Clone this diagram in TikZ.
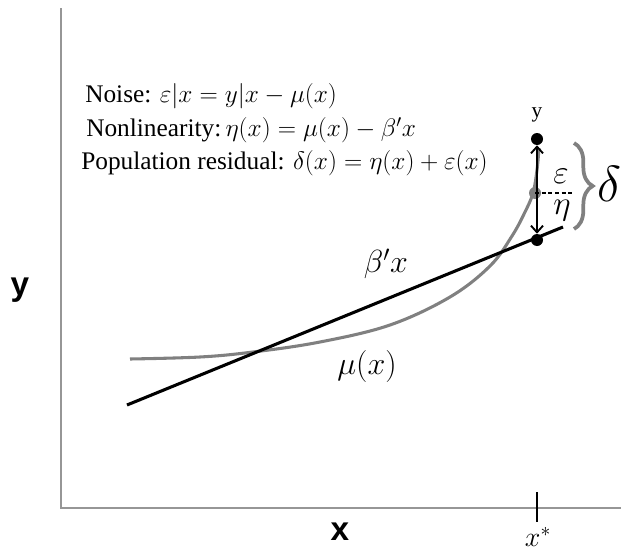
\RequirePackage{fix-cm}
\documentclass[tikz,border=0pt]{standalone}
\usepackage{amsmath,amssymb}
\usepackage[no-math]{fontspec}
\setmainfont{Liberation Serif}
\newfontfamily\axisfont{Liberation Sans}
\usepackage{tikz}
\usetikzlibrary{arrows.meta,positioning,decorations.pathreplacing,calc}
\definecolor{curvegray}{RGB}{128,128,128}
\definecolor{axisgray}{RGB}{150,150,150}

\begin{document}
\begin{tikzpicture}[x=0.75pt,y=-0.75pt,
  axis/.style={draw=axisgray,line width=1.5pt},
  dot/.style={circle,fill=black,inner sep=0pt,minimum size=9pt},
  gdot/.style={circle,fill=curvegray,inner sep=0pt,minimum size=9pt},
  lbl/.style={font=\fontsize{24}{26}\selectfont},
  txt/.style={anchor=west,inner sep=0pt,font=\fontsize{19}{22}\selectfont}]
\useasboundingbox (0,0) rectangle (621,553);
% axes
\coordinate (o) at (61,507.5);
\draw[axis] (61,8) -- (o) -- (621,507.5);
\node[font=\axisfont\bfseries\fontsize{25}{27}\selectfont] (ylab) at (20,290) {y};
\node[font=\axisfont\bfseries\fontsize{25}{27}\selectfont] (xlab) at (340,532) {x};
\draw[line width=1.2pt] (537,492) coordinate (tk1) -- (537,522) coordinate (tk2);
\node[inner sep=0pt,font=\fontsize{21}{23}\selectfont] (xstar) at (538,537) {$x^*$};
% mean curve and linear fit
\draw[curvegray,line width=2.3pt] plot[smooth,tension=0.6] coordinates {(130,359) (200,357) (253,352) (320,342) (390,325) (450,297) (490,266) (512,236) (525,212) (533,193) (537,170) (539,148)};
\coordinate (l1) at (127,405); \coordinate (l2) at (563,227);
\draw[line width=2.3pt] (l1) -- (l2);
\node[lbl] (blx) at (386,264) {$\beta'x$};
\node[lbl] (mux) at (367,366) {$\mu(x)$};
% decomposition at x*
\node[gdot] (mid) at (535,193) {};
\node[dot] (top) at (537,139) {};
\node[dot] (bot) at (537,240) {};
\node[font=\fontsize{16}{18}\selectfont] (ytop) at (537,115) {y};
\draw[{Straight Barb[length=5pt,width=9pt]}-{Straight Barb[length=5pt,width=9pt]},line width=1.4pt] (top) -- (bot);
\coordinate (dend) at (572,193);
\draw[densely dashed,line width=0.9pt] (mid.center) -- (dend);
\node[inner sep=0pt,font=\fontsize{25}{27}\selectfont] (eps) at (561,176) {$\varepsilon$};
\node[inner sep=0pt,font=\fontsize{25}{27}\selectfont] (eta) at (562,211) {$\eta$};
\coordinate (b1) at (574,143); \coordinate (b2) at (574,229);
\draw[curvegray,line width=2.8pt,decorate,decoration={brace,amplitude=14pt}] (b1) -- (b2);
\node[font=\fontsize{38}{40}\selectfont] (del) at (609,184) {$\delta$};
% definitions
\node[txt] (noise) at (85,96) {Noise: $\varepsilon|x = y|x - \mu(x)$};
\node[txt] (nonlin) at (86,130) {Nonlinearity:\,$\eta(x) = \mu(x) - \beta'x$};
\node[txt] (resid) at (81,163) {Population residual: $\delta(x) = \eta(x) + \varepsilon(x)$};
\end{tikzpicture}
\end{document}
